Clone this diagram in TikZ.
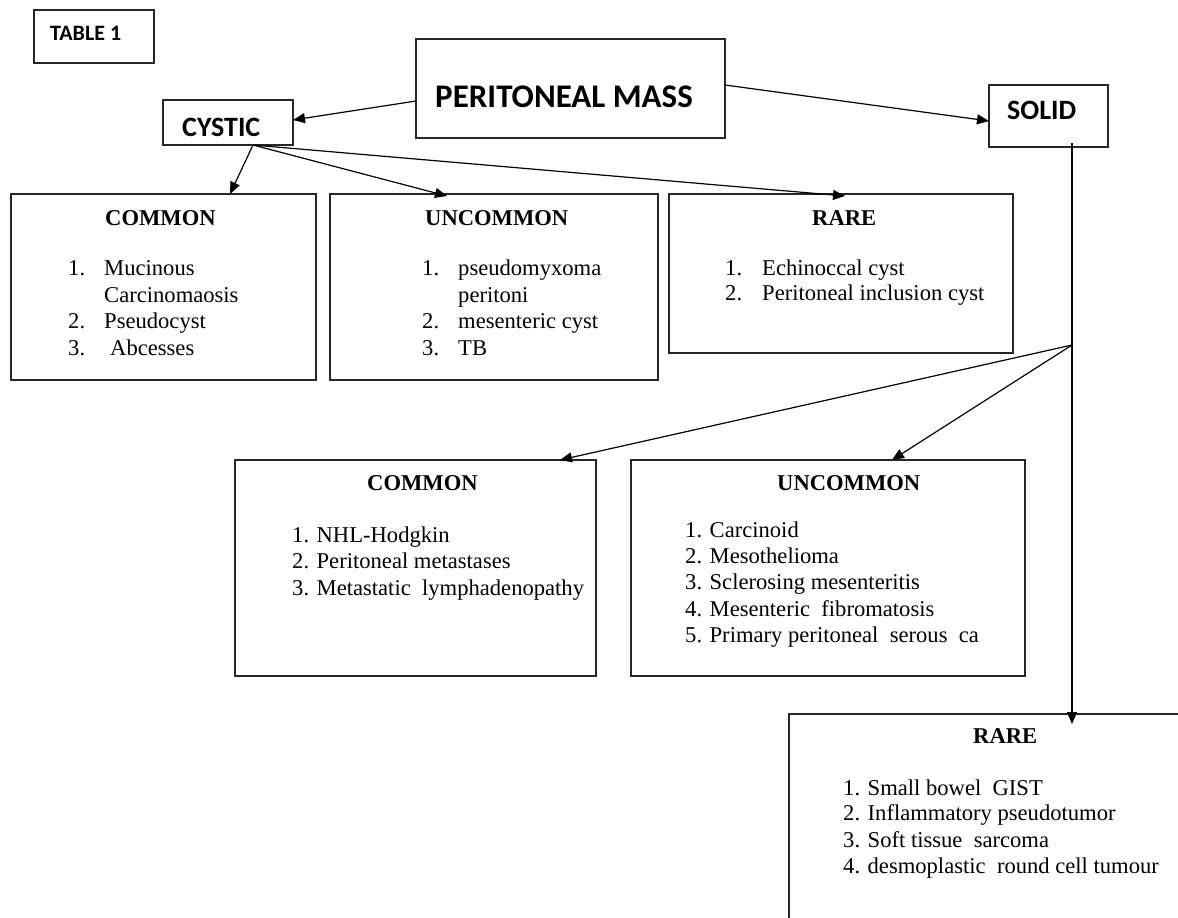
\documentclass[tikz,border=0pt]{standalone}
\usepackage{fontspec}
\setmainfont{Liberation Serif}
\newfontfamily\calib{Carlito}
\usetikzlibrary{arrows.meta,calc}
\begin{document}
\begin{tikzpicture}[x=1pt,y=-1pt,
  box/.style={draw=black!85, line width=1.3pt, inner sep=0pt, outer sep=0pt, fill=none},
  conn/.style={line width=1.2pt, -{Triangle[length=12pt,width=10pt]}},
  txt/.style={anchor=base west, inner sep=0pt, font=\fontsize{22.6}{26}\selectfont},
  head/.style={anchor=base west, inner sep=0pt, font=\fontsize{22.6}{26}\selectfont\bfseries},
  cal/.style={anchor=base west, inner sep=0pt, font=\calib\bfseries}]
\fill[white] (0,0) rectangle (1178,918);
\useasboundingbox (0,0) rectangle (1178,918);

% boxes
\node[box, minimum width=120pt, minimum height=53pt] (table1) at (94,36.5) {};
\node[box, minimum width=309pt, minimum height=99pt] (pm) at (570.5,88.5) {};
\node[box, minimum width=130pt, minimum height=45pt] (cystic) at (228,122.5) {};
\node[box, minimum width=119pt, minimum height=62pt] (solid) at (1048.5,116) {};
\node[box, minimum width=305pt, minimum height=186pt] (cCommon) at (163.5,287) {};
\node[box, minimum width=328pt, minimum height=186pt] (cUncommon) at (494,287) {};
\node[box, minimum width=344pt, minimum height=159pt] (cRare) at (841,273.5) {};
\node[box, minimum width=361pt, minimum height=216pt] (sCommon) at (415.5,568) {};
\node[box, minimum width=394pt, minimum height=216pt] (sUncommon) at (828,568) {};
\node[box, minimum width=411pt, minimum height=236pt] (sRare) at (994.5,832) {};

% top labels
\node[cal, font=\calib\bfseries\fontsize{22}{24}\selectfont] (t1) at (50,40) {TABLE 1};
\node[cal, font=\calib\bfseries\fontsize{33}{36}\selectfont] (pmt) at (435,107) {PERITONEAL MASS};
\node[cal, font=\calib\bfseries\fontsize{28}{30}\selectfont] (cyt) at (182,136) {CYSTIC};
\node[cal, font=\calib\bfseries\fontsize{28}{30}\selectfont] (sot) at (1007,119) {SOLID};

% cystic common
\node[head] (h1) at (105,225) {COMMON};
\node[txt] (n11) at (68,275) {1.};
\node[txt] (i11) at (104,275) {Mucinous};
\node[txt] (i11b) at (104,302) {Carcinomaosis};
\node[txt] (n12) at (68,328) {2.};
\node[txt] (i12) at (104,328) {Pseudocyst};
\node[txt] (n13) at (68,355) {3.};
\node[txt] (i13) at (110,355) {Abcesses};

% cystic uncommon
\node[head] (h2) at (425,225) {UNCOMMON};
\node[txt] (n21) at (422,275) {1.};
\node[txt] (i21) at (458,275) {pseudomyxoma};
\node[txt] (i21b) at (458,302) {peritoni};
\node[txt] (n22) at (422,328) {2.};
\node[txt] (i22) at (458,328) {mesenteric cyst};
\node[txt] (n23) at (422,355) {3.};
\node[txt] (i23) at (458,355) {TB};

% cystic rare
\node[head] (h3) at (812,225) {RARE};
\node[txt] (n31) at (725,275) {1.};
\node[txt] (i31) at (762,275) {Echinoccal cyst};
\node[txt] (n32) at (725,300) {2.};
\node[txt] (i32) at (762,300) {Peritoneal inclusion cyst};

% solid common
\node[head] (h4) at (367,490) {COMMON};
\node[txt] (i41) at (292,542) {1. NHL-Hodgkin};
\node[txt] (i42) at (292,568) {2. Peritoneal metastases};
\node[txt] (i43) at (292,595) {3. Metastatic\ \ lymphadenopathy};

% solid uncommon
\node[head] (h5) at (777,490) {UNCOMMON};
\node[txt] (i51) at (685,537) {1. Carcinoid};
\node[txt] (i52) at (685,563) {2. Mesothelioma};
\node[txt] (i53) at (685,589) {3. Sclerosing mesenteritis};
\node[txt] (i54) at (685,616) {4. Mesenteric\ \ fibromatosis};
\node[txt] (i55) at (685,642) {5. Primary peritoneal\ \ serous\ \ ca};

% solid rare
\node[head] (h6) at (973,743) {RARE};
\node[txt] (i61) at (843,795) {1. Small bowel\ \ GIST};
\node[txt] (i62) at (843,820) {2. Inflammatory pseudotumor};
\node[txt] (i63) at (843,847) {3. Soft tissue\ \ sarcoma};
\node[txt] (i64) at (843,873) {4. desmoplastic\ \ round cell tumour};

% connectors
\draw[conn] ([yshift=-12.5pt]pm.west) -- ([yshift=2.5pt]cystic.east);
\draw[conn] ([yshift=3.5pt]pm.east) -- ([yshift=-5pt]solid.west);
\draw[conn] ([xshift=25pt]cystic.south) -- ([xshift=66.5pt]cCommon.north);
\draw[conn] ([xshift=25pt]cystic.south) -- ([xshift=-47pt,yshift=-2pt]cUncommon.north);
\draw[conn] ([xshift=25pt]cystic.south) -- ([xshift=4pt,yshift=-2pt]cRare.north);
\coordinate (branch) at (1072,345);
\draw[conn] ([xshift=23.5pt,yshift=4pt]solid.south) -- (branch) -- ([xshift=77.5pt,yshift=-10pt]sRare.north);
\draw[conn] (branch) -- ([xshift=144.5pt]sCommon.north);
\draw[conn] (branch) -- ([xshift=64pt]sUncommon.north);
\end{tikzpicture}
\end{document}
